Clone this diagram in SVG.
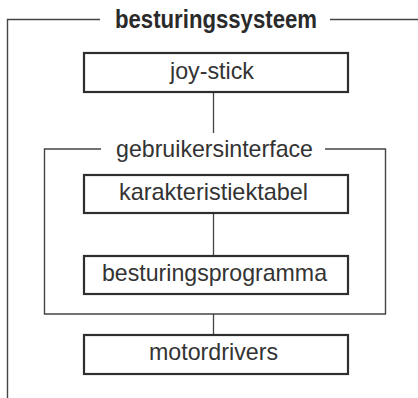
<svg xmlns="http://www.w3.org/2000/svg" width="418" height="398" viewBox="0 0 418 398">
<style>
.bg{fill:#fff}
.box{fill:#fff;stroke:#2e2e2e;stroke-width:2.2}
.frame{fill:none;stroke:#444;stroke-width:1.4}
.conn{fill:none;stroke:#444;stroke-width:1.3}
.t{font-family:"Liberation Sans",Arial,sans-serif;font-size:24px;fill:#333;text-anchor:middle}
.title{font-family:"Liberation Sans",Arial,sans-serif;font-size:26px;font-weight:bold;fill:#2a2a2a;text-anchor:middle}
</style>
<rect class="bg" x="0" y="0" width="418" height="398"/>
<g id="besturingssysteem">
<path class="frame" d="M7.5,398 V19.5 H100 M330,19.5 H418"/>
<text class="title" x="216" y="27.5" textLength="202" lengthAdjust="spacingAndGlyphs">besturingssysteem</text>
</g>
<g id="gebruikersinterface">
<path class="frame" d="M101,149 H44.5 V314 H385.5 V149 H325"/>
<text class="t" x="214.5" y="157" textLength="197" lengthAdjust="spacingAndGlyphs">gebruikersinterface</text>
</g>
<g id="connectors">
<line class="conn" x1="213.5" y1="92" x2="213.5" y2="133"/>
<line class="conn" x1="213.5" y1="213" x2="213.5" y2="256"/>
<line class="conn" x1="213.5" y1="314" x2="213.5" y2="335"/>
</g>
<g id="joy-stick">
<rect class="box" x="84" y="53" width="264" height="39"/>
<text class="t" x="212" y="79" textLength="84" lengthAdjust="spacingAndGlyphs">joy-stick</text>
</g>
<g id="karakteristiektabel">
<rect class="box" x="84" y="175" width="264" height="38"/>
<text class="t" x="213.5" y="199.5" textLength="189" lengthAdjust="spacingAndGlyphs">karakteristiektabel</text>
</g>
<g id="besturingsprogramma">
<rect class="box" x="84" y="256" width="264" height="38"/>
<text class="t" x="214.5" y="281" textLength="225" lengthAdjust="spacingAndGlyphs">besturingsprogramma</text>
</g>
<g id="motordrivers">
<rect class="box" x="84" y="335" width="264" height="39"/>
<text class="t" x="213.5" y="360" textLength="129" lengthAdjust="spacingAndGlyphs">motordrivers</text>
</g>
</svg>
